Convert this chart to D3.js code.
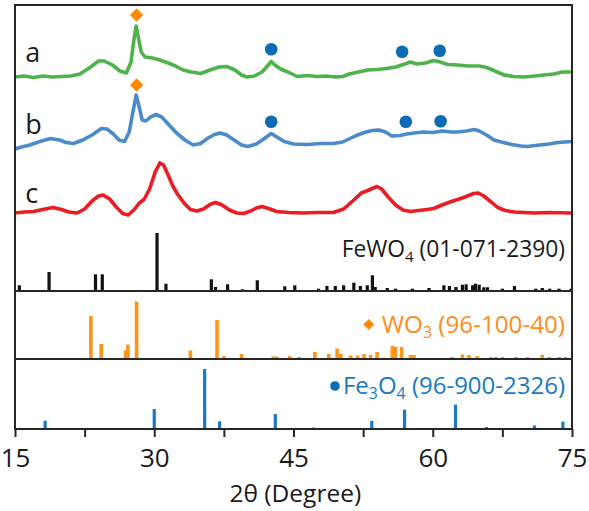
<!DOCTYPE html>
<html>
<head>
<meta charset="utf-8">
<script src="https://cdn.jsdelivr.net/npm/d3@7"></script>
<style>
  body { margin: 0; background: #fff; }
  svg { display: block; font-family: "Open Sans", sans-serif; }
  .frame, .divider { fill: none; stroke: #262626; stroke-width: 2; }
  .pattern { fill: none; stroke-width: 3.6; stroke-linejoin: round; }
  .axis path, .axis line { stroke: #262626; stroke-width: 2; }
  .axis text { font-size: 26px; fill: #1a1a1a; font-family: "Open Sans", sans-serif; }
  .curve-label { font-size: 27px; fill: #1a1a1a; }
  .ref-label { text-anchor: end; }
  .axis-title { font-size: 24.5px; fill: #1a1a1a; text-anchor: middle; }
</style>
</head>
<body>
<div id="wrapper"></div>
<script>
// Measured patterns: [2θ, intensity (a.u., stacked)]
const patternA = [
  [15.0, 214], [16.0, 215], [17.0, 213.5], [18.0, 215], [19.0, 214], [20.0, 214.5],
  [21.0, 215], [22.0, 217], [23.0, 223], [24.0, 230], [24.6, 230], [25.5, 226],
  [26.3, 220], [27.0, 218], [27.5, 229], [27.8, 251], [28.05, 265], [28.3, 253],
  [28.6, 239], [29.0, 234], [29.8, 233], [30.6, 231], [31.5, 228], [32.3, 225],
  [33.1, 221], [34.0, 219], [35.0, 217.5], [36.0, 221], [37.0, 224], [37.8, 224.5],
  [38.7, 221], [39.4, 216], [40.0, 214], [40.8, 215], [41.6, 219], [42.2, 225],
  [42.6, 229.5], [43.0, 226], [43.6, 222], [44.4, 219], [45.4, 214.5], [46.5, 215.5],
  [47.5, 214.5], [48.5, 215], [49.5, 214], [50.3, 214.5], [51.0, 217], [52.0, 219],
  [53.0, 221], [54.0, 221.5], [55.0, 222.5], [56.0, 224], [57.0, 227], [57.6, 229],
  [58.3, 227], [59.2, 228], [60.1, 230.5], [60.8, 229], [61.6, 226.5], [62.7, 226],
  [63.8, 225], [65.0, 225], [65.8, 223.5], [66.7, 220], [67.7, 216], [68.7, 214.5],
  [69.8, 214], [71.0, 215], [72.0, 216], [73.0, 217], [74.0, 219], [75.0, 219]
];
const patternB = [
  [15.0, 142], [15.5, 143.5], [16.6, 146], [17.5, 149], [18.8, 152.5], [19.8, 151],
  [20.5, 148.5], [21.3, 147.5], [22.3, 151], [23.3, 156], [24.3, 162.5], [24.9, 162],
  [25.6, 157], [26.2, 151], [26.8, 149.5], [27.3, 159], [27.7, 179], [28.05, 196],
  [28.35, 185], [28.7, 171], [29.1, 170], [29.6, 174], [30.2, 176.5], [30.8, 174],
  [31.5, 167], [32.4, 158], [33.3, 151], [34.2, 146], [35.0, 147.5], [35.8, 153],
  [36.5, 156.5], [37.1, 158], [37.8, 156], [38.6, 151], [39.4, 146], [40.1, 144.5],
  [41.0, 147], [41.8, 152], [42.6, 157.5], [43.2, 154], [44.0, 149.5], [45.0, 147],
  [46.5, 146.5], [48.0, 147.5], [49.3, 147.5], [50.3, 149], [51.2, 153], [51.9, 156],
  [52.8, 159], [53.5, 160.5], [54.2, 161], [54.9, 159], [55.6, 155], [56.5, 155.5],
  [57.2, 157], [58.0, 158], [59.0, 159], [60.0, 158.5], [61.0, 160], [62.0, 159],
  [62.7, 159], [63.6, 160], [64.5, 161.5], [65.0, 160], [65.8, 156], [66.6, 151],
  [67.4, 149], [68.5, 146.5], [69.5, 145], [70.2, 144.5], [71.5, 146], [72.5, 147],
  [73.5, 148.5], [75.0, 149.5]
];
const patternC = [
  [15.0, 78], [16.0, 79], [17.0, 79.5], [18.0, 81.5], [19.1, 83.5], [20.0, 81.5],
  [20.8, 79], [21.7, 78], [22.5, 82], [23.3, 90], [24.0, 95], [24.5, 96],
  [25.2, 92], [25.9, 84], [26.6, 77.5], [27.2, 76], [27.8, 81], [28.4, 88],
  [28.9, 91.5], [29.5, 102], [30.1, 119], [30.6, 128], [31.0, 126], [31.5, 116],
  [32.0, 105], [32.5, 97], [33.2, 88], [33.9, 81.5], [34.6, 80], [35.3, 82],
  [36.0, 86.5], [36.6, 88.5], [37.3, 86], [38.1, 81], [38.9, 78], [39.6, 77.5],
  [40.4, 80], [41.0, 83], [41.6, 84.5], [42.3, 82.5], [43.2, 79.5], [44.5, 78.5],
  [46.0, 78], [47.5, 78.5], [49.3, 78.5], [50.4, 82], [51.5, 91], [52.3, 98],
  [53.0, 100.5], [53.6, 103], [54.0, 104.5], [54.5, 102], [55.2, 94], [56.0, 86],
  [56.8, 81], [57.6, 79.5], [58.5, 80.5], [59.4, 81.5], [60.1, 82.5], [61.0, 86],
  [62.0, 89.5], [62.7, 91.5], [63.6, 94.5], [64.4, 97.5], [64.9, 98], [65.5, 95],
  [66.3, 89], [67.0, 83.5], [67.8, 80.5], [68.8, 79], [69.8, 78.5], [71.0, 78],
  [72.5, 78.5], [75.0, 78]
];

// Reference cards: [2θ, relative intensity]
const fewo4Sticks = [
  [15.47, 5.7], [18.67, 19], [23.67, 16.7], [24.4, 16.7], [30.3, 58], [31.26, 7.3],
  [36.15, 11.7], [36.6, 4], [37.9, 6.7], [39.5, 1.7], [41.1, 10.7], [44.06, 4.7],
  [45.14, 5.7], [47.7, 2.3], [48.6, 5], [49.5, 5], [50.4, 5.7], [51.5, 8.3],
  [52.2, 5], [52.95, 5.7], [53.5, 15.7], [53.8, 4], [55.1, 3], [56.0, 2.3],
  [57.8, 2.3], [59.6, 3], [61.2, 5.7], [61.8, 5], [62.5, 4], [63.2, 6.3],
  [63.6, 6.7], [64.3, 5.7], [64.6, 7.3], [65.0, 6.3], [65.5, 3.7], [65.9, 3.7],
  [67.5, 2.3], [68.8, 5], [71.1, 2.3], [71.8, 3], [72.6, 2.3], [73.6, 2.3], [74.9, 2.3]
];
const wo3Sticks = [
  [23.17, 43], [24.28, 15], [26.9, 8.5], [27.16, 14.5], [28.1, 57.5], [33.9, 8.5],
  [36.76, 39], [37.5, 3], [39.4, 5], [42.8, 2.5], [43.2, 2.5], [44.6, 3],
  [45.6, 2], [47.3, 7], [48.8, 5], [49.7, 10.5], [50.1, 5], [51.15, 3.5],
  [51.9, 3.5], [52.6, 5], [53.3, 4], [54.0, 7], [55.65, 13], [56.0, 12],
  [56.65, 12], [57.6, 4], [57.98, 4], [62.1, 2], [63.2, 4.5], [63.9, 4],
  [64.8, 3], [66.3, 2], [66.8, 2], [67.5, 2], [68.95, 2], [70.2, 2],
  [71.8, 4], [72.55, 2], [73.6, 2], [74.3, 2]
];
const fe3o4Sticks = [
  [18.25, 8.3], [30.0, 20], [35.43, 60], [37.04, 7.7], [43.04, 15], [47.16, 1.5],
  [53.43, 8], [56.96, 19.3], [62.45, 24.3], [65.78, 2], [70.96, 3.5], [74.02, 7.3]
];

// Phase markers over the patterns: [2θ, intensity]
const wo3Markers = [[28.1, 276], [28.1, 206]];
const fe3o4Markers = [
  [42.6, 241.7], [56.7, 239.3], [60.75, 240.3],
  [42.6, 169.3], [57.1, 169.3], [60.85, 169.8]
];

const sampleNames = ["a", "b", "c"];
const sampleLabelValues = [229, 157, 88];
const xTicks = [15, 22.5, 30, 37.5, 45, 52.5, 60, 67.5, 75];
const xLabelTicks = [15, 30, 45, 60, 75];

async function drawChart() {
  let dimensions = {
    width: 589,
    height: 511,
    margin: { top: 5, right: 17, bottom: 82, left: 15 },
    // three stacked panels: patterns + FeWO4, WO3, Fe3O4
    panels: [286, 68, 70],
  };
  dimensions.boundedWidth = dimensions.width - dimensions.margin.left - dimensions.margin.right;
  dimensions.boundedHeight = dimensions.height - dimensions.margin.top - dimensions.margin.bottom;

  const wrapper = d3.select("#wrapper")
    .append("svg")
      .attr("width", dimensions.width)
      .attr("height", dimensions.height);

  const bounds = wrapper.append("g")
    .attr("transform", `translate(${dimensions.margin.left}, ${dimensions.margin.top})`);

  // Scales
  const xScale = d3.scaleLinear()
    .domain([15, 75])
    .range([0, dimensions.boundedWidth]);

  const [h0, h1, h2] = dimensions.panels;
  const yTop = d3.scaleLinear().domain([0, h0]).range([h0, 0]);
  const yWo3 = d3.scaleLinear().domain([0, h1]).range([h0 + h1, h0]);
  const yFe3o4 = d3.scaleLinear().domain([0, h2]).range([h0 + h1 + h2, h0 + h1]);

  // Patterns
  const lineGenerator = d3.line()
    .x(d => xScale(d[0]))
    .y(d => yTop(d[1]));

  const patterns = [
    { data: patternA, color: "#4fb34b" },
    { data: patternB, color: "#4b8bc9" },
    { data: patternC, color: "#ec1c24" },
  ];
  bounds.selectAll(".pattern")
    .data(patterns)
    .join("path")
      .attr("class", "pattern")
      .attr("d", d => lineGenerator(d.data))
      .attr("stroke", d => d.color);

  bounds.selectAll(".curve-label")
    .data(sampleNames)
    .join("text")
      .attr("class", "curve-label")
      .attr("x", xScale(16.1))
      .attr("y", (d, i) => yTop(sampleLabelValues[i]))
      .text(d => d);

  // Stick patterns for the reference cards
  const drawSticks = (data, yScale, color, width) => {
    bounds.append("g")
      .selectAll("rect")
      .data(data)
      .join("rect")
        .attr("x", d => xScale(d[0]) - width / 2)
        .attr("y", d => yScale(d[1]))
        .attr("width", width)
        .attr("height", d => yScale(0) - yScale(d[1]))
        .attr("fill", color);
  };
  drawSticks(fewo4Sticks, yTop, "#111111", 3.2);
  drawSticks(wo3Sticks, yWo3, "#ff9419", 3.6);
  drawSticks(fe3o4Sticks, yFe3o4, "#1b78c2", 3.2);

  // Markers
  const diamond = d3.symbol(d3.symbolSquare, 88);
  bounds.selectAll(".wo3-marker")
    .data(wo3Markers)
    .join("path")
      .attr("class", "wo3-marker")
      .attr("d", diamond)
      .attr("transform", d => `translate(${xScale(d[0])}, ${yTop(d[1])}) rotate(45)`)
      .attr("fill", "#ff8a00");

  bounds.selectAll(".fe3o4-marker")
    .data(fe3o4Markers)
    .join("circle")
      .attr("class", "fe3o4-marker")
      .attr("cx", d => xScale(d[0]))
      .attr("cy", d => yTop(d[1]))
      .attr("r", 6.3)
      .attr("fill", "#0b6cb5");

  // Reference card labels
  const addLabel = (y, size, color, parts) => {
    const label = bounds.append("text")
      .attr("class", "ref-label")
      .attr("x", dimensions.boundedWidth - 7)
      .attr("y", y)
      .attr("font-size", size)
      .attr("fill", color);
    parts.forEach(([str, sub]) => {
      label.append("tspan")
        .attr("font-size", sub ? size * 0.66 : null)
        .attr("dy", sub ? 5 : (label.selectAll("tspan").size() > 1 ? -5 : 0))
        .text(str);
    });
    return label;
  };
  addLabel(252, 22.8, "#1a1a1a", [["FeWO"], ["4", true], [" (01-071-2390)"]]);
  const wo3Label = addLabel(328, 24.2, "#ff8c1a", [["WO"], ["3", true], [" (96-100-40)"]]);
  const fe3o4Label = addLabel(389, 24, "#1b78c2", [["Fe"], ["3", true], ["O"], ["4", true], [" (96-900-2326)"]]);

  const wo3Box = wo3Label.node().getBBox();
  bounds.append("path")
    .attr("d", d3.symbol(d3.symbolSquare, 62))
    .attr("transform", `translate(${wo3Box.x - 13}, ${328 - 8.5}) rotate(45)`)
    .attr("fill", "#ff8a00");
  const fe3o4Box = fe3o4Label.node().getBBox();
  bounds.append("circle")
    .attr("cx", fe3o4Box.x - 8)
    .attr("cy", 389 - 8)
    .attr("r", 4.8)
    .attr("fill", "#0b6cb5");

  // Frame and panel dividers
  bounds.append("rect")
    .attr("class", "frame")
    .attr("width", dimensions.boundedWidth)
    .attr("height", dimensions.boundedHeight);
  bounds.selectAll(".divider")
    .data([h0, h0 + h1])
    .join("line")
      .attr("class", "divider")
      .attr("x1", 0)
      .attr("x2", dimensions.boundedWidth)
      .attr("y1", d => d)
      .attr("y2", d => d);

  // x axis
  const xAxisGenerator = d3.axisBottom(xScale)
    .tickValues(xTicks)
    .tickSize(8)
    .tickSizeOuter(0)
    .tickPadding(12)
    .tickFormat(d => xLabelTicks.includes(d) ? d : "");
  const xAxis = bounds.append("g")
    .attr("class", "axis")
    .attr("transform", `translate(0, ${dimensions.boundedHeight})`)
    .call(xAxisGenerator);
  xAxis.select(".domain").remove();

  bounds.append("text")
    .attr("class", "axis-title")
    .attr("x", xScale(45.2))
    .attr("y", dimensions.boundedHeight + 73)
    .text("2θ (Degree)");
}
drawChart();
</script>
</body>
</html>
